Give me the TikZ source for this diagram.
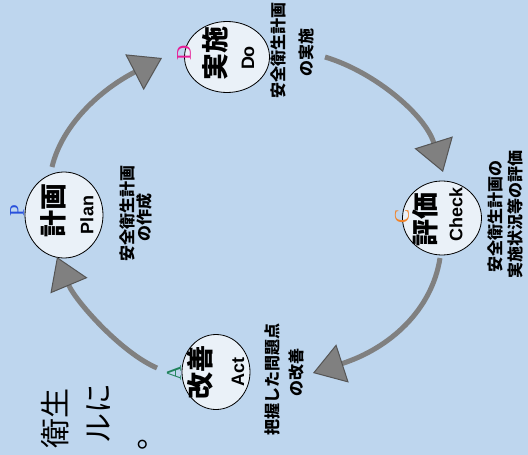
\documentclass[tikz,border=0pt]{standalone}
\usepackage{fontspec}
\setmainfont{Noto Sans CJK JP}
\newfontfamily\latinsans{Liberation Sans}
\newfontfamily\latinserif{Liberation Serif}
\usetikzlibrary{shapes.geometric,arrows.meta}
\definecolor{bg}{RGB}{190,214,238}
\definecolor{circfill}{RGB}{234,241,248}
\definecolor{arrowgrey}{RGB}{128,128,128}
\definecolor{arrowedge}{RGB}{85,85,85}
\definecolor{pblue}{RGB}{40,80,220}
\definecolor{dmag}{RGB}{230,30,150}
\definecolor{corange}{RGB}{240,130,40}
\definecolor{agreen}{RGB}{30,130,90}
\begin{document}
\begin{tikzpicture}[x=1pt,y=-1pt,
  stage/.style={ellipse, draw=black, line width=0.8pt, fill=circfill, inner sep=0pt},
  bigword/.style={rotate=90, font=\fontsize{27}{27}\selectfont\bfseries, inner sep=0pt},
  engword/.style={rotate=90, font=\latinsans\fontsize{18}{18}\selectfont\bfseries, inner sep=0pt},
  descline/.style={rotate=90, font=\fontsize{16}{16}\selectfont\bfseries, inner sep=0pt},
  pdcaletter/.style={rotate=90, font=\latinserif\fontsize{21}{21}\selectfont, inner sep=0pt},
  cyc/.style={line width=5pt, draw=arrowgrey,
     -{Triangle[length=31pt,width=40pt,line width=1pt,color=arrowedge,fill=arrowgrey]}},
  leadline/.style={rotate=90, font=\fontsize{30}{30}\selectfont, inner sep=0pt, anchor=east}
]
\useasboundingbox (0,0) rectangle (528,455);
\fill[bg] (0,0) rectangle (528,455);

% stage circles
\node[stage, minimum width=78, minimum height=86] (plan) at (64,215) {};
\node[stage, minimum width=85, minimum height=71] (do) at (227,57) {};
\node[stage, minimum width=79, minimum height=74] (check) at (442,218) {};
\node[stage, minimum width=68, minimum height=75] (act) at (216,372) {};

% words inside circles
\node[bigword] (planj) at (53,210) {計画};
\node[engword] (plane) at (87,215) {Plan};
\node[bigword] (doj) at (215,53) {実施};
\node[engword] (doe) at (248,58) {Do};
\node[bigword] (checkj) at (425,219) {評価};
\node[engword] (checke) at (456,214) {Check};
\node[bigword] (actj) at (200,372) {改善};
\node[engword] (acte) at (238,372) {Act};

% letters
\node[pdcaletter, text=pblue] (lp) at (17,211) {P};
\node[pdcaletter, text=dmag] (ld) at (184,53) {D};
\node[pdcaletter, text=corange] (lc) at (402,216) {C};
\node[pdcaletter, text=agreen] (la) at (174,373) {A};

% descriptions
\node[descline] (pd1) at (127,213) {安全衛生計画};
\node[descline] (pd2) at (144,217) {の作成};
\node[descline] (dd1) at (278,50) {安全衛生計画};
\node[descline] (dd2) at (306,52) {の実施};
\node[descline] (cd1) at (495,216) {安全衛生計画の};
\node[descline] (cd2) at (515,214) {実施状況等の評価};
\node[descline] (ad1) at (272,379) {把握した問題点};
\node[descline] (ad2) at (296,372) {の改善};

% leading text
\node[leadline] (t1) at (55,388) {衛生};
\node[leadline] (t2) at (99,383) {ルに};
\node[leadline] (t3) at (143,420) {。};

% cycle arrows
\coordinate (a1s) at (157,368);
\coordinate (a1e) at (57,257);
\coordinate (a2s) at (52,167);
\coordinate (a2e) at (162,58);
\coordinate (a3s) at (325,57);
\coordinate (a3e) at (443,172);
\coordinate (a4s) at (440,258);
\coordinate (a4e) at (313,373);
\draw[cyc] (a1s) .. controls (120,352) and (75,300) .. (a1e);
\draw[cyc] (a2s) .. controls (62,125) and (100,90) .. (a2e);
\draw[cyc] (a3s) .. controls (375,72) and (425,115) .. (a3e);
\draw[cyc] (a4s) .. controls (432,310) and (390,348) .. (a4e);
\end{tikzpicture}
\end{document}
